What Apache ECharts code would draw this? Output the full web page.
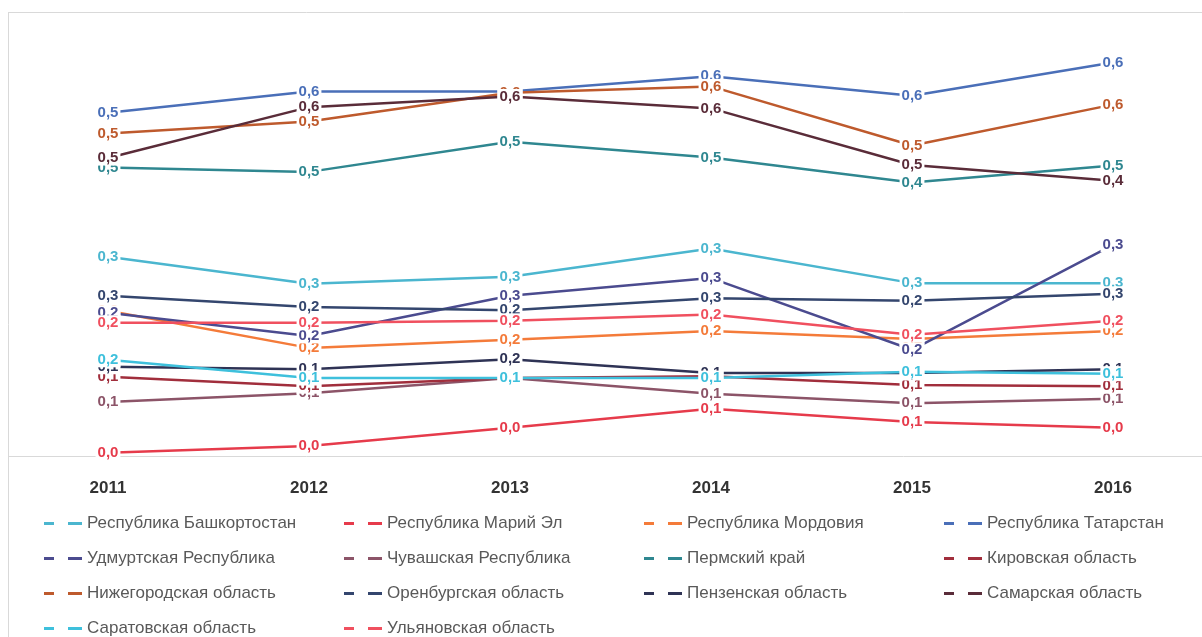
<!DOCTYPE html>
<html>
<head>
<meta charset="utf-8">
<script src="https://cdn.jsdelivr.net/npm/echarts@6/dist/echarts.min.js"></script>
<style>
html,body{margin:0;padding:0;background:#fff;}
#chart{width:1202px;height:637px;}
</style>
</head>
<body>
<div id="chart"></div>
<script>
const years = ['2011', '2012', '2013', '2014', '2015', '2016'];

const bashkortostan = [0.317, 0.274, 0.285, 0.330, 0.275, 0.275];
const mariEl        = [0.005, 0.016, 0.045, 0.075, 0.054, 0.045];
const mordovia      = [0.231, 0.172, 0.185, 0.199, 0.186, 0.199];
const tatarstan     = [0.546, 0.580, 0.580, 0.604, 0.573, 0.626];
const udmurt        = [0.228, 0.191, 0.255, 0.283, 0.169, 0.336];
const chuvash       = [0.086, 0.100, 0.124, 0.099, 0.084, 0.091];
const perm          = [0.459, 0.452, 0.500, 0.475, 0.435, 0.462];
const kirov         = [0.126, 0.111, 0.124, 0.127, 0.113, 0.111];
const nizhegorod    = [0.513, 0.532, 0.578, 0.588, 0.494, 0.559];
const orenburg      = [0.255, 0.237, 0.232, 0.251, 0.247, 0.258];
const penza         = [0.142, 0.138, 0.154, 0.132, 0.132, 0.138];
const samara        = [0.474, 0.555, 0.572, 0.553, 0.463, 0.438];
const saratov       = [0.153, 0.124, 0.124, 0.124, 0.134, 0.131];
const ulyanovsk     = [0.212, 0.212, 0.215, 0.225, 0.193, 0.215];

const seriesDefs = [
  ['Республика Башкортостан', bashkortostan, '#4BB6CF'],
  ['Республика Марий Эл', mariEl, '#E63B4B'],
  ['Республика Мордовия', mordovia, '#F47B3A'],
  ['Республика Татарстан', tatarstan, '#4A6FB8'],
  ['Удмуртская Республика', udmurt, '#4B4B8F'],
  ['Чувашская Республика', chuvash, '#8C5468'],
  ['Пермский край', perm, '#2F8790'],
  ['Кировская область', kirov, '#A12E3C'],
  ['Нижегородская область', nizhegorod, '#BE5A2D'],
  ['Оренбургская область', orenburg, '#34466E'],
  ['Пензенская область', penza, '#2F3355'],
  ['Самарская область', samara, '#5A2C39'],
  ['Саратовская область', saratov, '#3EC0DC'],
  ['Ульяновская область', ulyanovsk, '#F0505F']
];

const legendCols = [
  ['Республика Башкортостан', 'Удмуртская Республика', 'Нижегородская область', 'Саратовская область'],
  ['Республика Марий Эл', 'Чувашская Республика', 'Оренбургская область', 'Ульяновская область'],
  ['Республика Мордовия', 'Пермский край', 'Пензенская область'],
  ['Республика Татарстан', 'Кировская область', 'Самарская область']
];
const legendLefts = [44, 344, 644, 944];

const FONT = 'Liberation Sans, Arial, sans-serif';
const chart = echarts.init(document.getElementById('chart'));

const series = seriesDefs.map(([name, data, color]) => ({
  name: name,
  type: 'line',
  data: data,
  color: color,
  symbol: 'circle',
  symbolSize: 0.1,
  showSymbol: true,
  lineStyle: { width: 2.5, color: color },
  itemStyle: { color: color },
  emphasis: { disabled: true },
  label: {
    show: true,
    position: 'inside',
    color: color,
    fontFamily: FONT,
    fontSize: 15,
    fontWeight: 'bold',
    backgroundColor: '#fff',
    padding: [0, 2],
    formatter: p => p.value.toFixed(1).replace('.', ',')
  },
  labelLayout: { hideOverlap: false },
  animation: false
}));

const legends = legendCols.map((names, i) => ({
  orient: 'vertical',
  left: legendLefts[i],
  top: 514,
  height: 200,
  data: names,
  icon: 'path://M0,0h10v3h-10zM24,0h14v3h-14z',
  itemWidth: 38,
  itemHeight: 3,
  itemGap: 16,
  padding: 0,
  selectedMode: false,
  textStyle: { color: '#595959', fontSize: 17, fontFamily: FONT, lineHeight: 19 }
}));

chart.setOption({
  animation: false,
  backgroundColor: '#fff',
  grid: { left: 108, right: 89, top: 16, bottom: 181, containLabel: false },
  xAxis: {
    type: 'category',
    data: years,
    boundaryGap: false,
    axisLine: { show: false },
    axisTick: { show: false },
    axisLabel: { color: '#333', fontSize: 17, fontWeight: 'bold', fontFamily: FONT, margin: 24 },
    splitLine: { show: false }
  },
  yAxis: {
    type: 'value',
    min: 0,
    max: 0.7,
    interval: 0.1,
    show: false
  },
  legend: legends,
  graphic: [
    { type: 'line', shape: { x1: 8, y1: 456.5, x2: 1202, y2: 456.5 }, style: { stroke: '#D9D9D9', lineWidth: 1 }, z: 0 },
    { type: 'line', shape: { x1: 8.5, y1: 12, x2: 8.5, y2: 637 }, style: { stroke: '#D9D9D9', lineWidth: 1 }, z: 0 },
    { type: 'line', shape: { x1: 8, y1: 12.5, x2: 1202, y2: 12.5 }, style: { stroke: '#D9D9D9', lineWidth: 1 }, z: 0 }
  ],
  series: series
});
</script>
</body>
</html>
